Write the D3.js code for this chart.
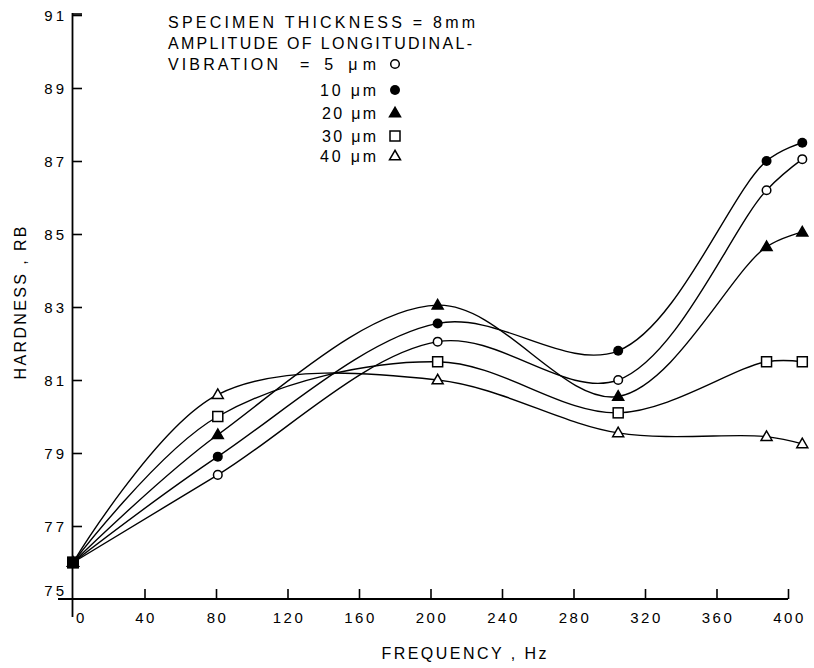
<!DOCTYPE html>
<html><head><meta charset="utf-8">
<script src="https://cdn.jsdelivr.net/npm/d3@7"></script>
<style>
body{margin:0;background:#fff}
svg{display:block}
text{font-family:"Liberation Sans",Arial,sans-serif;fill:#000}
</style>
</head><body><svg id="c" width="814" height="668"></svg>
<script>
// ---- data ----
const frequencies = [0, 81, 204, 305, 388, 408];
const amplitudeLabels = ["5 μm", "10 μm", "20 μm", "30 μm", "40 μm"];
const hardness5  = [76, 78.4, 82.05, 81.0, 86.2, 87.05];
const hardness10 = [76, 78.9, 82.55, 81.8, 87.0, 87.5];
const hardness20 = [76, 79.5, 83.05, 80.55, 84.65, 85.05];
const hardness30 = [76, 80.0, 81.5, 80.1, 81.5, 81.5];
const hardness40 = [76, 80.6, 81.0, 79.55, 79.45, 79.25];
const markerTypes = ["circleOpen", "circleFilled", "triFilled", "squareOpen", "triOpen"];
const xTicks = [0, 40, 80, 120, 160, 200, 240, 280, 320, 360, 400];
const yTicks = [75, 77, 79, 81, 83, 85, 87, 89, 91];
const headerLines = ["SPECIMEN THICKNESS = 8mm", "AMPLITUDE OF LONGITUDINAL-", "VIBRATION"];
const xTitle = "FREQUENCY , Hz";
const yTitle = "HARDNESS , RB";

const seriesValues = [hardness5, hardness10, hardness20, hardness30, hardness40];
const series = seriesValues.map((vals, i) => ({
  label: amplitudeLabels[i], marker: markerTypes[i],
  points: vals.map((v, j) => ({f: frequencies[j], h: v}))
}));

const svg = d3.select("#c");
const x = d3.scaleLinear().domain([0, 400]).range([73, 788]);
const y = d3.scaleLinear().domain([75, 91]).range([599, 15]);

// axes
const gx = svg.append("g").attr("transform", "translate(0,599)")
  .call(d3.axisBottom(x).tickValues(xTicks).tickSize(-10).tickSizeOuter(0).tickFormat(d3.format("d")));
gx.select(".domain").remove();
gx.selectAll(".tick line").attr("stroke", "#000").attr("stroke-width", 1.6);
gx.selectAll(".tick text").attr("y", 19).attr("dy", "0.35em")
  .style("font-size", "15px").style("letter-spacing", "2.5px")
  .attr("font-family", null)
  .attr("dx", d => d === 0 ? 8 : 1);
gx.selectAll(".tick").filter(d => d === 0).select("line").remove();

const gy = svg.append("g").attr("transform", "translate(72,0)")
  .call(d3.axisLeft(y).tickValues(yTicks).tickSize(-10).tickSizeOuter(0).tickFormat(d3.format("d")));
gy.select(".domain").remove();
gy.selectAll(".tick line").attr("stroke", "#000").attr("stroke-width", 1.6);
gy.selectAll(".tick").filter(d => d === 75).select("line").remove();
gy.selectAll(".tick text").attr("x", -5).attr("dy", "0.35em")
  .style("font-size", "15px").style("letter-spacing", "3px").attr("font-family", null)
  .attr("y", d => d === 75 ? -9 : 0);

// axis lines
svg.append("line").attr("x1", 72.5).attr("x2", 72.5).attr("y1", y(91) - 2).attr("y2", 617)
  .attr("stroke", "#000").attr("stroke-width", 1.8);
svg.append("line").attr("x1", 58).attr("x2", x(400)).attr("y1", 599).attr("y2", 599)
  .attr("stroke", "#000").attr("stroke-width", 1.8);
svg.append("line").attr("x1", 72.5).attr("x2", 82).attr("y1", y(91) - 1).attr("y2", y(91) - 1)
  .attr("stroke", "#000").attr("stroke-width", 1.6);

// titles
svg.append("text").attr("x", 464).attr("y", 653).attr("dy", "0.35em").attr("text-anchor", "middle")
  .attr("textLength", 165).attr("lengthAdjust", "spacing").style("font-size", "16px").text(xTitle);
svg.append("text").attr("transform", "translate(20,303) rotate(-90)").attr("dy", "0.35em")
  .attr("text-anchor", "middle").attr("textLength", 153).attr("lengthAdjust", "spacing")
  .style("font-size", "16px").text(yTitle);

// curves
const line = d3.line().x(d => x(d.f)).y(d => y(d.h)).curve(d3.curveCatmullRom.alpha(0.5));
svg.append("g").selectAll("path").data(series).join("path")
  .attr("d", d => line(d.points)).attr("fill", "none").attr("stroke", "#000").attr("stroke-width", 1.4);

// markers
function drawMarker(g, type, cx, cy) {
  const s = 1.5;
  if (type === "circleOpen") {
    g.append("circle").attr("cx", cx).attr("cy", cy).attr("r", 4.3).attr("fill", "#fff").attr("stroke", "#000").attr("stroke-width", s);
  } else if (type === "circleFilled") {
    g.append("circle").attr("cx", cx).attr("cy", cy).attr("r", 5).attr("fill", "#000");
  } else if (type === "squareOpen") {
    g.append("rect").attr("x", cx - 5).attr("y", cy - 5).attr("width", 10).attr("height", 10).attr("fill", "#fff").attr("stroke", "#000").attr("stroke-width", s);
  } else {
    const h = 9.5, w = 11;
    const pts = [[cx, cy - h * 0.6], [cx - w / 2, cy + h * 0.4], [cx + w / 2, cy + h * 0.4]];
    g.append("path").attr("d", "M" + pts.map(p => p.join(",")).join("L") + "Z")
      .attr("fill", type === "triFilled" ? "#000" : "#fff").attr("stroke", "#000").attr("stroke-width", s).attr("stroke-linejoin", "miter");
  }
}
const gm = svg.append("g");
series.slice().reverse().forEach(s => {
  s.points.forEach(p => drawMarker(gm, s.marker, x(p.f), y(p.h)));
});
// the coincident start point appears as a solid block
gm.append("rect").attr("x", x(0) - 6).attr("y", y(76) - 6).attr("width", 12).attr("height", 12).attr("fill", "#000");

// legend
const lg = svg.append("g");
const headerY = [22, 43, 64];
const headerW = [307, 304, 110];
headerLines.forEach((t, i) => {
  lg.append("text").attr("x", 168).attr("y", headerY[i]).attr("dy", "0.35em")
    .attr("textLength", headerW[i]).attr("lengthAdjust", "spacing").style("font-size", "16px").text(t);
});
const legendY = [64, 90, 113, 136, 156];
const legendX = [300, 320, 322, 322, 320];
series.forEach((s, i) => {
  const label = i === 0 ? "= " + s.label : s.label;
  lg.append("text").attr("x", legendX[i]).attr("y", legendY[i]).attr("dy", "0.35em")
    .attr("textLength", 376 - legendX[i]).attr("lengthAdjust", "spacing")
    .style("font-size", "16px").text(label);
  drawMarker(lg, s.marker, 395, legendY[i]);
});
</script>
</body></html>
